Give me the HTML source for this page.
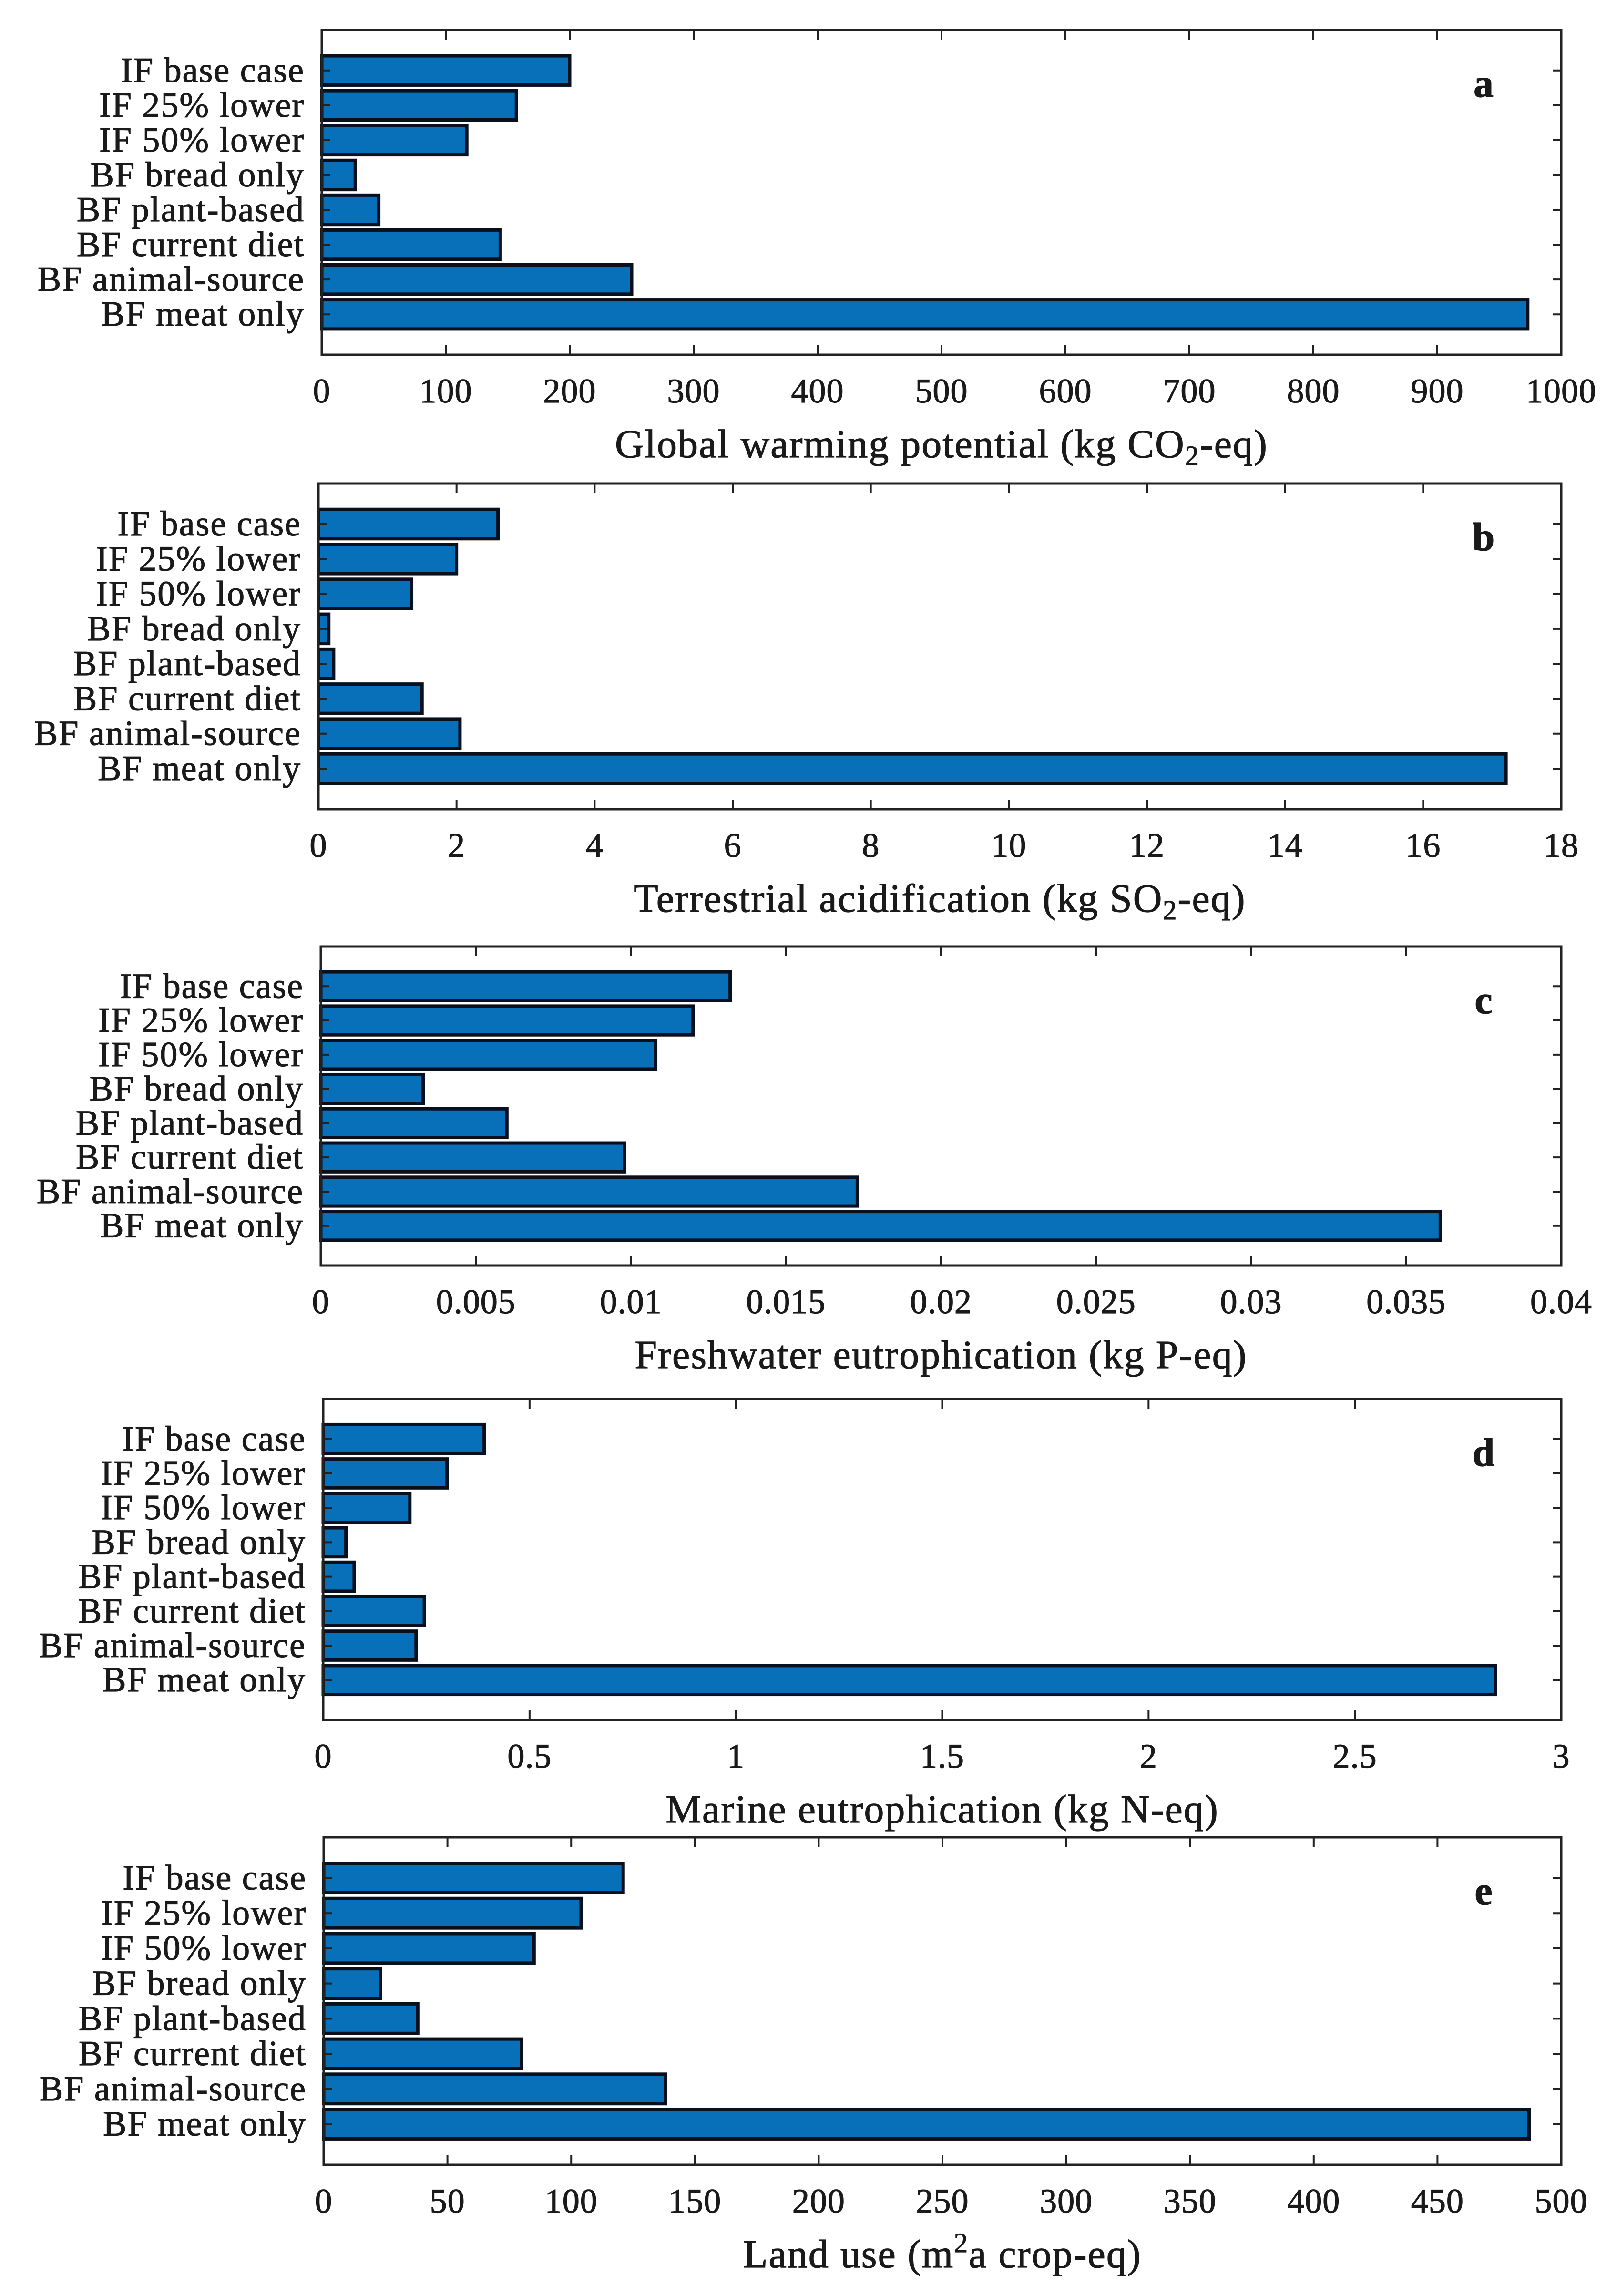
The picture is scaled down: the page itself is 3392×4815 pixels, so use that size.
<!DOCTYPE html>
<html><head><meta charset="utf-8">
<style>
html,body{margin:0;padding:0;background:#fff;}
svg{display:block;}
text{font-family:"Liberation Serif",serif;fill:#1a1a1a;stroke:#1a1a1a;stroke-width:1.2;}
</style></head>
<body>
<svg id="fig" width="3392" height="4815" viewBox="0 0 3392 4815" xmlns="http://www.w3.org/2000/svg"></svg>
<script>
const categories = ["IF base case","IF 25% lower","IF 50% lower","BF bread only","BF plant-based","BF current diet","BF animal-source","BF meat only"];
const gwpValues = [200,157,117,27,46,144,250,973];
const taValues = [2.6,2.0,1.35,0.15,0.22,1.5,2.05,17.2];
const feValues = [0.0132,0.012,0.0108,0.0033,0.006,0.0098,0.0173,0.0361];
const meValues = [0.39,0.30,0.21,0.055,0.075,0.245,0.225,2.84];
const luValues = [121,104,85,23,38,80,138,487];
const gwpTicks = ["0","100","200","300","400","500","600","700","800","900","1000"];
const taTicks = ["0","2","4","6","8","10","12","14","16","18"];
const feTicks = ["0","0.005","0.01","0.015","0.02","0.025","0.03","0.035","0.04"];
const meTicks = ["0","0.5","1","1.5","2","2.5","3"];
const luTicks = ["0","50","100","150","200","250","300","350","400","450","500"];
const panelLetters = ["a","b","c","d","e"];

const NS="http://www.w3.org/2000/svg";
const svg=document.getElementById('fig');
function el(tag,attrs,parent){const e=document.createElementNS(NS,tag);for(const k in attrs)e.setAttribute(k,attrs[k]);(parent||svg).appendChild(e);return e;}

const panels=[
 {vals:gwpValues,ticks:gwpTicks,top:63,bottom:744,left:675,title:'Global warming potential (kg CO<tspan dy="16" font-size="58">2</tspan><tspan dy="-16">-eq)</tspan>'},
 {vals:taValues,ticks:taTicks,top:1014,bottom:1697,left:668,title:'Terrestrial acidification (kg SO<tspan dy="16" font-size="58">2</tspan><tspan dy="-16">-eq)</tspan>'},
 {vals:feValues,ticks:feTicks,top:1985,bottom:2654,left:673,title:'Freshwater eutrophication (kg P-eq)'},
 {vals:meValues,ticks:meTicks,top:2934,bottom:3607,left:678,title:'Marine eutrophication (kg N-eq)'},
 {vals:luValues,ticks:luTicks,top:3853,bottom:4540,left:679,title:'Land use (m<tspan dy="-32" font-size="58">2</tspan><tspan dy="32">a crop-eq)</tspan>'}
];
const right=3275;

panels.forEach((p,pi)=>{
  const g=el('g',{});
  
  
  const xmax=parseFloat(p.ticks[p.ticks.length-1]);
  const xs=v=>p.left+(v/xmax)*(right-p.left);
  const n=categories.length, pad=1.16;
  const span=(p.bottom-p.top)/(n-1+2*pad);
  const ys=i=>p.top+(pad+i)*span;
  const bh=span*0.84;
  p.vals.forEach((v,i)=>{
    const r=el('rect',{x:xs(0),y:ys(i)-bh/2,width:xs(v)-xs(0),height:bh,fill:'#0870b8',stroke:'#0a0f1e','stroke-width':7},g);
    
    
  });
  categories.forEach((c,i)=>{
    const t=el('text',{x:p.left-36,y:ys(i)+24,'font-size':74,'letter-spacing':2,'text-anchor':'end'},g);
    t.textContent=c;
    
    
    el('line',{x1:p.left,x2:p.left+18,y1:ys(i),y2:ys(i),stroke:'#222','stroke-width':4},g);
    el('line',{x1:right,x2:right-18,y1:ys(i),y2:ys(i),stroke:'#222','stroke-width':4},g);
  });
  p.ticks.forEach(tk=>{
    const x=xs(parseFloat(tk));
    el('line',{x1:x,x2:x,y1:p.bottom,y2:p.bottom-20,stroke:'#222','stroke-width':4},g);
    el('line',{x1:x,x2:x,y1:p.top,y2:p.top+20,stroke:'#222','stroke-width':4},g);
    const t=el('text',{x:x,y:p.bottom+100,'font-size':72,'letter-spacing':1,'text-anchor':'middle'},g);
    t.textContent=tk;
    
    
  });
  const b=el('rect',{x:p.left,y:p.top,width:right-p.left,height:p.bottom-p.top,fill:'none',stroke:'#222','stroke-width':5},g);
  
  
  const tt=el('text',{x:(p.left+right)/2,y:p.bottom+215,'font-size':84,'letter-spacing':2,'text-anchor':'middle'},g);
  tt.innerHTML=p.title;
  
  
  const lt=el('text',{x:3112,y:p.top+140,'font-size':84,'font-weight':'bold','text-anchor':'middle'},g);
  lt.textContent=panelLetters[pi];
  
  
});
</script>
</body></html>
